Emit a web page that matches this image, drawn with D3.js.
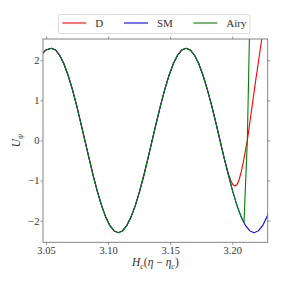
<!DOCTYPE html>
<html>
<head>
<meta charset="utf-8">
<script src="https://cdn.jsdelivr.net/npm/d3@7"></script>
<style>
body { margin: 0; background: #fff; }
text { font-family: "Liberation Serif", "DejaVu Serif", serif; }
</style>
</head>
<body>
<script>
// values
var smX = [3.0458, 3.0500, 3.0543, 3.0577, 3.0610, 3.0644, 3.0678, 3.0712, 3.0746, 3.0779,
  3.0813, 3.0847, 3.0880, 3.0914, 3.0948, 3.0981, 3.1015, 3.1048, 3.1082,
  3.1116, 3.1150, 3.1184, 3.1219, 3.1253, 3.1287, 3.1321, 3.1355,
  3.1389, 3.1423, 3.1457, 3.1491, 3.1525, 3.1559, 3.1593, 3.1627,
  3.1661, 3.1696, 3.1730, 3.1764, 3.1798, 3.1833, 3.1867, 3.1901,
  3.1935, 3.1970, 3.2004, 3.2038, 3.2072, 3.2107, 3.2141, 3.2175,
  3.2209, 3.2244, 3.2278, 3.2312];
var smY = [2.125, 2.256, 2.30, 2.256, 2.125, 1.912, 1.626, 1.278, 0.880, 0.449,
  0, -0.449, -0.880, -1.278, -1.626, -1.912, -2.125, -2.256, -2.30,
  -2.256, -2.125, -1.912, -1.626, -1.278, -0.880, -0.449, 0,
  0.449, 0.880, 1.278, 1.626, 1.912, 2.125, 2.256, 2.30,
  2.256, 2.125, 1.912, 1.626, 1.278, 0.880, 0.449, 0,
  -0.449, -0.880, -1.278, -1.626, -1.912, -2.125, -2.256, -2.30,
  -2.256, -2.125, -1.912, -1.626];

var dX = [3.0458, 3.0500, 3.0543, 3.0577, 3.0610, 3.0644, 3.0678, 3.0712, 3.0746, 3.0779,
  3.0813, 3.0847, 3.0880, 3.0914, 3.0948, 3.0981, 3.1015, 3.1048, 3.1082,
  3.1116, 3.1150, 3.1184, 3.1219, 3.1253, 3.1287, 3.1321, 3.1355,
  3.1389, 3.1423, 3.1457, 3.1491, 3.1525, 3.1559, 3.1593, 3.1627,
  3.1661, 3.1696, 3.1730, 3.1764, 3.1798, 3.1833, 3.1867, 3.1901,
  3.1935, 3.1970, 3.1990, 3.2005, 3.2022, 3.2038, 3.2055, 3.2072,
  3.2090, 3.2121, 3.2183, 3.2237, 3.2260];
var dY = [2.125, 2.256, 2.30, 2.256, 2.125, 1.912, 1.626, 1.278, 0.880, 0.449,
  0, -0.449, -0.880, -1.278, -1.626, -1.912, -2.125, -2.256, -2.30,
  -2.256, -2.125, -1.912, -1.626, -1.278, -0.880, -0.449, 0,
  0.449, 0.880, 1.278, 1.626, 1.912, 2.125, 2.256, 2.30,
  2.256, 2.125, 1.912, 1.626, 1.278, 0.880, 0.449, 0,
  -0.449, -0.85, -1.02, -1.10, -1.135, -1.10, -0.98, -0.78,
  -0.52, 0, 1.38, 2.53, 3.0];

var airyX = [3.0458, 3.0500, 3.0543, 3.0577, 3.0610, 3.0644, 3.0678, 3.0712, 3.0746, 3.0779,
  3.0813, 3.0847, 3.0880, 3.0914, 3.0948, 3.0981, 3.1015, 3.1048, 3.1082,
  3.1116, 3.1150, 3.1184, 3.1219, 3.1253, 3.1287, 3.1321, 3.1355,
  3.1389, 3.1423, 3.1457, 3.1491, 3.1525, 3.1559, 3.1593, 3.1627,
  3.1661, 3.1696, 3.1730, 3.1764, 3.1798, 3.1833, 3.1867, 3.1901,
  3.1935, 3.1970, 3.2004, 3.2038, 3.2072, 3.2094, 3.2121, 3.2155];
var airyY = [2.125, 2.256, 2.30, 2.256, 2.125, 1.912, 1.626, 1.278, 0.880, 0.449,
  0, -0.449, -0.880, -1.278, -1.626, -1.912, -2.125, -2.256, -2.30,
  -2.256, -2.125, -1.912, -1.626, -1.278, -0.880, -0.449, 0,
  0.449, 0.880, 1.278, 1.626, 1.912, 2.125, 2.256, 2.30,
  2.256, 2.125, 1.912, 1.626, 1.278, 0.880, 0.449, 0,
  -0.449, -0.880, -1.278, -1.626, -1.912, -2.05, 0, 5.2];

var names = ["D", "SM", "Airy"];
var xTicks = [3.05, 3.10, 3.15, 3.20];
var yTicks = [-2, -1, 0, 1, 2];

var W = 281, H = 281;
var pL = 43, pR = 267.7, pT = 39, pB = 242.3;

var x = d3.scaleLinear().domain([3.0476, 3.2285]).range([pL, pR]);
var y = d3.scaleLinear().domain([-2.54, 2.53]).range([pB, pT]);

var svg = d3.select("body").append("svg")
    .attr("width", W)
    .attr("height", H);

svg.append("clipPath").attr("id", "clip")
  .append("rect")
    .attr("x", pL).attr("y", pT)
    .attr("width", pR - pL).attr("height", pB - pT);

var series = [
  {name: "D", xs: dX, ys: dY, color: "#ff0000"},
  {name: "SM", xs: smX, ys: smY, color: "#0000ff"},
  {name: "Airy", xs: airyX, ys: airyY, color: "#008000"}
];

var line = d3.line()
    .x(function(d) { return x(d[0]); })
    .y(function(d) { return y(d[1]); });

svg.append("g").attr("clip-path", "url(#clip)")
  .selectAll("path")
  .data(series)
  .enter().append("path")
    .attr("fill", "none")
    .attr("stroke", function(d) { return d.color; })
    .attr("stroke-width", 1.1)
    .attr("d", function(d) { return line(d3.zip(d.xs, d.ys)); });

var minus = function(s) { return s.replace("-", "\u2212"); };
var tickCol = "#777";

var axB = svg.append("g").attr("transform", "translate(0," + pB + ")")
    .call(d3.axisBottom(x).tickValues(xTicks).tickFormat(d3.format(".2f"))
      .tickSize(2.5).tickPadding(1.5).tickSizeOuter(0));
var axT = svg.append("g").attr("transform", "translate(0," + pT + ")")
    .call(d3.axisTop(x).tickValues(xTicks).tickFormat("").tickSize(2.5).tickSizeOuter(0));
var axL = svg.append("g").attr("transform", "translate(" + pL + ",0)")
    .call(d3.axisLeft(y).tickValues(yTicks).tickFormat(function(d) { return minus(d3.format("d")(d)); })
      .tickSize(2.5).tickPadding(1).tickSizeOuter(0));
var axR = svg.append("g").attr("transform", "translate(" + pR + ",0)")
    .call(d3.axisRight(y).tickValues(yTicks).tickFormat("").tickSize(2.5).tickSizeOuter(0));

[axB, axT, axL, axR].forEach(function(a) {
  a.select(".domain").remove();
  a.selectAll("line").attr("stroke", tickCol).attr("stroke-width", 0.8);
  a.selectAll("text").attr("fill", "#333").style("font-size", "10.5px")
    .style("font-family", "'Liberation Serif', serif");
});

svg.append("rect")
    .attr("x", pL).attr("y", pT)
    .attr("width", pR - pL).attr("height", pB - pT)
    .attr("fill", "none").attr("stroke", tickCol).attr("stroke-width", 0.9);

// axis labels
var xl = svg.append("text")
    .attr("x", (pL + pR) / 2).attr("y", 266)
    .attr("text-anchor", "middle").attr("fill", "#333")
    .style("font-size", "11.5px");
xl.append("tspan").style("font-style", "italic").text("H");
xl.append("tspan").attr("dy", 2.5).style("font-size", "8px").style("font-style", "italic").text("c");
xl.append("tspan").attr("dy", -2.5).text("(");
xl.append("tspan").style("font-style", "italic").text("\u03b7");
xl.append("tspan").text(" \u2212 ");
xl.append("tspan").style("font-style", "italic").text("\u03b7");
xl.append("tspan").attr("dy", 2.5).style("font-size", "8px").style("font-style", "italic").text("c");
xl.append("tspan").attr("dy", -2.5).text(")");

var yl = svg.append("text")
    .attr("transform", "translate(20," + ((pT + pB) / 2) + ") rotate(-90)")
    .attr("text-anchor", "middle").attr("fill", "#333")
    .style("font-size", "11.5px");
yl.append("tspan").style("font-style", "italic").text("U");
yl.append("tspan").attr("dy", 2.5).style("font-size", "8px").style("font-style", "italic").text("\u03c8");

// legend
var leg = svg.append("g");
leg.append("rect")
    .attr("x", 58.5).attr("y", 14.5).attr("width", 191.5).attr("height", 19)
    .attr("rx", 2).attr("fill", "#fff").attr("stroke", "#d8d8d8").attr("stroke-width", 0.9);
var legX = [62.3, 124, 193.3];
var item = leg.selectAll("g.item").data(series).enter().append("g").attr("class", "item")
    .attr("transform", function(d, i) { return "translate(" + legX[i] + ",23)"; });
item.append("line")
    .attr("x1", 0).attr("x2", 24).attr("y1", 0).attr("y2", 0)
    .attr("stroke", function(d) { return d.color; }).attr("stroke-width", 1.1);
item.append("text")
    .attr("x", 33).attr("y", 3.8)
    .attr("fill", "#333").style("font-size", "11px")
    .text(function(d, i) { return names[i]; });
</script>
</body>
</html>
